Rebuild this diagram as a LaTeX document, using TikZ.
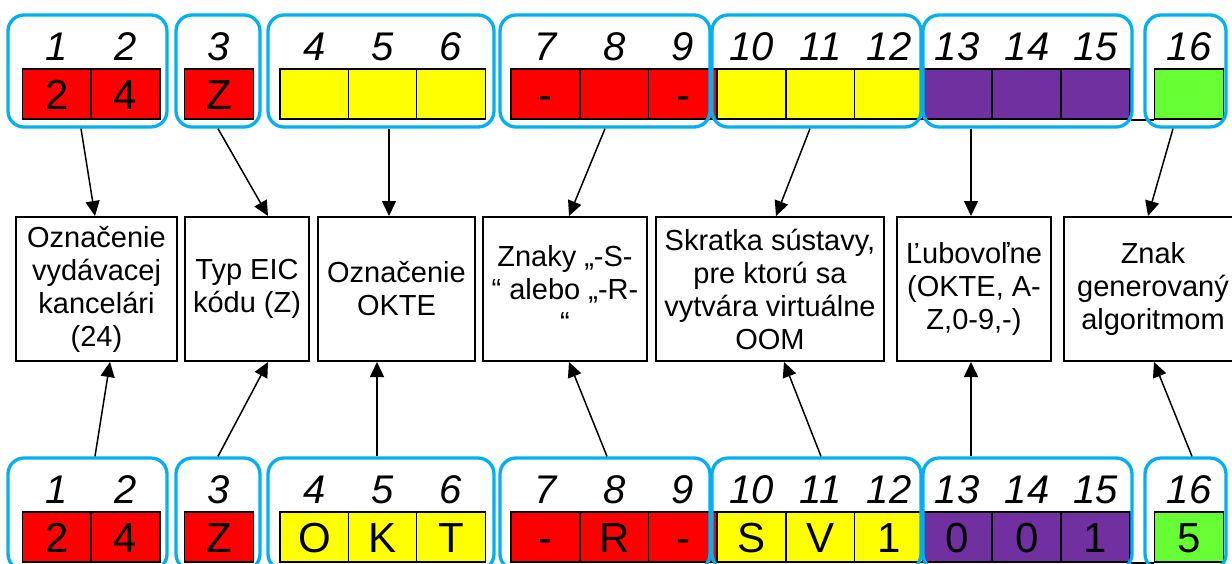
\documentclass[tikz,border=0pt]{standalone}
\usepackage{fontspec}
\setmainfont{Liberation Sans}
\usetikzlibrary{arrows.meta}
\definecolor{eicblue}{RGB}{0,176,240}
\definecolor{eicred}{RGB}{255,0,0}
\definecolor{eicyellow}{RGB}{255,255,0}
\definecolor{eicpurple}{RGB}{112,48,160}
\definecolor{eicgreen}{RGB}{102,255,51}
\tikzset{
  cell/.style={draw=black, line width=1.7pt, minimum width=69pt, minimum height=50pt,
    inner sep=0pt, text height=30pt, text depth=0pt, font=\fontsize{42}{50}\selectfont},
  posnum/.style={inner sep=0pt, text height=29pt, text depth=0pt, font=\fontsize{40}{48}\selectfont\itshape},
  group/.style={draw=eicblue, line width=3.3pt, rounded corners=16pt, minimum height=112pt, inner sep=0pt},
  desc/.style={draw=black, line width=2pt, minimum height=144pt, inner sep=0pt, align=center,
    font=\fontsize{29}{33}\selectfont},
}
\begin{document}
\begin{tikzpicture}[x=1pt,y=-1pt,>={Triangle[length=15pt,width=14pt]}]
\useasboundingbox (0,0) rectangle (1232,563);
\clip (0,0) rectangle (1232,563);
% cells, top and bottom code
\foreach \n/\x/\c/\a/\b in {1/57/eicred/2/2, 2/125.5/eicred/4/4, 3/219/eicred/Z/Z,
  4/314.5/eicyellow/{}/O, 5/383/eicyellow/{}/K, 6/451/eicyellow/{}/T,
  7/545.5/eicred/-/-, 8/614.5/eicred/{}/R, 9/683/eicred/-/-,
  10/751.5/eicyellow/{}/S, 11/820.5/eicyellow/{}/V, 12/889/eicyellow/{}/1,
  13/957/eicpurple/{}/0, 14/1027/eicpurple/{}/0, 15/1095.5/eicpurple/{}/1,
  16/1189/eicgreen/{}/5}{
  \node[cell, fill=\c] (t\n) at (\x,94) {\a};
  \node[cell, fill=\c] (b\n) at (\x,537) {\b};
  \node[posnum] (tp\n) at (\x,46) {\n};
  \node[posnum] (bp\n) at (\x,489) {\n};
}
\draw[line width=1.7pt] (t15.south east) -- (t16.south west);
\draw[line width=1.7pt] (b15.south east) -- (b16.south west);
% blue groups
\foreach \n/\x/\w in {1/87.5/159, 2/218/84, 3/381/226, 4/605/210,
  5/816.5/209, 6/1027.5/209, 7/1185.5/81}{
  \node[group, minimum width=\w pt] (gt\n) at (\x,71) {};
  \node[group, minimum width=\w pt] (gb\n) at (\x,514) {};
}
% descriptions
\node[desc, minimum width=161pt] (m1) at (96.5,289) {Označenie\\vydávacej\\kancelári\\(24)};
\node[desc, minimum width=124pt] (m2) at (247,289) {Typ EIC\\kódu (Z)};
\node[desc, minimum width=157pt] (m3) at (396.5,289) {Označenie\\OKTE};
\node[desc, minimum width=164pt] (m4) at (565,289) {Znaky „-S-\\“ alebo „-R-\\“};
\node[desc, minimum width=228pt] (m5) at (770,289) {Skratka sústavy,\\pre ktorú sa\\vytvára virtuálne\\OOM};
\node[desc, minimum width=154pt] (m6) at (974,289) {Ľubovoľne\\(OKTE, A-\\Z,0-9,-)};
\node[desc, minimum width=178pt] (m7) at (1153,289) {Znak\\generovaný\\algoritmom};
% arrows
\foreach \n/\ga/\ma/\gb/\mb in {1/-6.5/-1.5/7.5/13.5, 2/0/21/0/21, 3/8/-7.5/-4/-19.5,
  4/0/4/2/4, 5/-6.5/6/4.5/14, 6/-56.5/-3/-56.5/-3, 7/-12.5/-5/6.5/1}{
  \draw[->, line width=1.5pt] ([xshift=\ga pt]gt\n.south) -- ([xshift=\ma pt]m\n.north);
  \draw[->, line width=1.5pt] ([xshift=\gb pt]gb\n.north) -- ([xshift=\mb pt]m\n.south);
}
\end{tikzpicture}
\end{document}
